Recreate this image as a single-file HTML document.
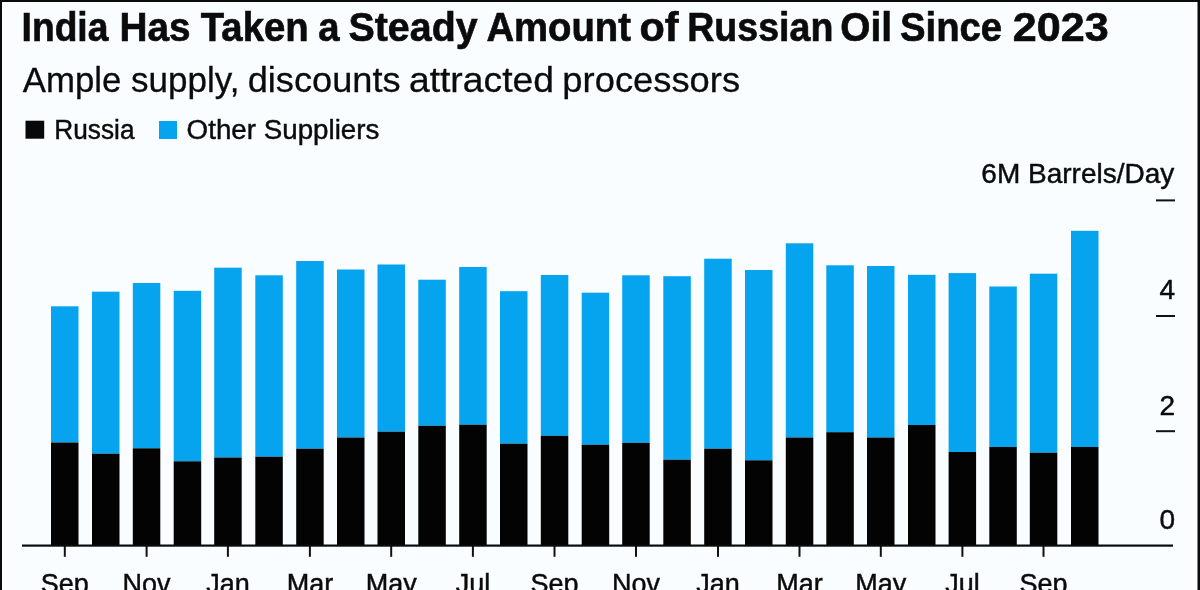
<!DOCTYPE html>
<html><head><meta charset="utf-8">
<style>
html,body{margin:0;padding:0;}
body{width:1200px;height:590px;overflow:hidden;background:#fafdff;position:relative;font-family:"Liberation Sans",sans-serif;color:#0b0b0b;}
.t{position:absolute;white-space:nowrap;line-height:1;}
svg{position:absolute;left:0;top:0;will-change:transform;}
</style></head><body>
<svg width="1200" height="590" viewBox="0 0 1200 590">
<g font-family="Liberation Sans" font-weight="bold" font-size="38.3" fill="#0b0b0b" stroke="#0b0b0b" stroke-width="0.6" transform="translate(0,41) scale(1,1.05) translate(0,-41)"><text x="21.59" y="41" textLength="86.81" lengthAdjust="spacingAndGlyphs">India</text><text x="119.46" y="41" textLength="71.12" lengthAdjust="spacingAndGlyphs">Has</text><text x="200.8" y="41">Taken</text><text x="318.32" y="41">a</text><text x="348.47" y="41" textLength="129.14" lengthAdjust="spacingAndGlyphs">Steady</text><text x="486.4" y="41">Amount</text><text x="639.44" y="41" textLength="39.03" lengthAdjust="spacingAndGlyphs">of</text><text x="687.16" y="41" textLength="146.19" lengthAdjust="spacingAndGlyphs">Russian</text><text x="840.37" y="41" textLength="51.73" lengthAdjust="spacingAndGlyphs">Oil</text><text x="899.99" y="41">Since</text><text x="1012.67" y="41" textLength="95.98" lengthAdjust="spacingAndGlyphs">2023</text></g>
<g font-family="Liberation Sans" font-size="35.8" fill="#0b0b0b" stroke="#0b0b0b" stroke-width="0.3"><text x="22.8" y="92.3" textLength="98.63" lengthAdjust="spacingAndGlyphs">Ample</text><text x="131.12" y="92.3" textLength="108.28" lengthAdjust="spacingAndGlyphs">supply,</text><text x="247.73" y="92.3" textLength="152.82" lengthAdjust="spacingAndGlyphs">discounts</text><text x="408.92" y="92.3" textLength="145.08" lengthAdjust="spacingAndGlyphs">attracted</text><text x="562.37" y="92.3" textLength="177.72" lengthAdjust="spacingAndGlyphs">processors</text></g>
<rect x="25.5" y="120.7" width="18.7" height="18" fill="#080808"/>
<rect x="159" y="121" width="18" height="18" fill="#06a3ee"/>
<g font-family="Liberation Sans" font-size="27" fill="#0b0b0b" stroke="#0b0b0b" stroke-width="0.45">
<text x="54.3" y="139" textLength="80.2" lengthAdjust="spacingAndGlyphs">Russia</text>
<text x="186.6" y="139" textLength="192.8" lengthAdjust="spacingAndGlyphs">Other Suppliers</text>
</g>
<g font-family="Liberation Sans" font-size="28" fill="#0b0b0b" stroke="#0b0b0b" stroke-width="0.45" text-anchor="end">
<text x="1174.3" y="182.5">6M Barrels/Day</text>
<text x="1175" y="298.5">4</text>
<text x="1175" y="415">2</text>
<text x="1175" y="529">0</text>
</g>
<rect x="1156" y="199.4" width="19" height="2" fill="#111"/>
<rect x="1156" y="315" width="19" height="2" fill="#111"/>
<rect x="1156" y="430.2" width="19" height="2" fill="#111"/>
<rect x="51.0" y="306.3" width="27.5" height="136.2" fill="#06a3ee"/>
<rect x="51.0" y="442.5" width="27.5" height="103.0" fill="#030303"/>
<rect x="92.0" y="291.7" width="27.5" height="162.0" fill="#06a3ee"/>
<rect x="92.0" y="453.7" width="27.5" height="91.8" fill="#030303"/>
<rect x="132.8" y="283.0" width="27.5" height="165.3" fill="#06a3ee"/>
<rect x="132.8" y="448.3" width="27.5" height="97.2" fill="#030303"/>
<rect x="173.7" y="290.8" width="27.5" height="170.5" fill="#06a3ee"/>
<rect x="173.7" y="461.3" width="27.5" height="84.2" fill="#030303"/>
<rect x="214.2" y="267.7" width="27.5" height="189.8" fill="#06a3ee"/>
<rect x="214.2" y="457.5" width="27.5" height="88.0" fill="#030303"/>
<rect x="255.3" y="275.3" width="27.5" height="181.4" fill="#06a3ee"/>
<rect x="255.3" y="456.7" width="27.5" height="88.8" fill="#030303"/>
<rect x="296.2" y="261.0" width="27.5" height="187.7" fill="#06a3ee"/>
<rect x="296.2" y="448.7" width="27.5" height="96.8" fill="#030303"/>
<rect x="337.0" y="269.5" width="27.5" height="168.0" fill="#06a3ee"/>
<rect x="337.0" y="437.5" width="27.5" height="108.0" fill="#030303"/>
<rect x="377.5" y="264.5" width="27.5" height="167.2" fill="#06a3ee"/>
<rect x="377.5" y="431.7" width="27.5" height="113.8" fill="#030303"/>
<rect x="418.3" y="279.7" width="27.5" height="146.1" fill="#06a3ee"/>
<rect x="418.3" y="425.8" width="27.5" height="119.7" fill="#030303"/>
<rect x="459.2" y="267.0" width="27.5" height="157.7" fill="#06a3ee"/>
<rect x="459.2" y="424.7" width="27.5" height="120.8" fill="#030303"/>
<rect x="500.0" y="291.2" width="27.5" height="152.5" fill="#06a3ee"/>
<rect x="500.0" y="443.7" width="27.5" height="101.8" fill="#030303"/>
<rect x="540.8" y="275.0" width="27.5" height="160.8" fill="#06a3ee"/>
<rect x="540.8" y="435.8" width="27.5" height="109.7" fill="#030303"/>
<rect x="581.7" y="292.7" width="27.5" height="152.0" fill="#06a3ee"/>
<rect x="581.7" y="444.7" width="27.5" height="100.8" fill="#030303"/>
<rect x="622.2" y="275.3" width="27.5" height="167.5" fill="#06a3ee"/>
<rect x="622.2" y="442.8" width="27.5" height="102.7" fill="#030303"/>
<rect x="663.3" y="276.2" width="27.5" height="183.5" fill="#06a3ee"/>
<rect x="663.3" y="459.7" width="27.5" height="85.8" fill="#030303"/>
<rect x="704.2" y="258.7" width="27.5" height="190.0" fill="#06a3ee"/>
<rect x="704.2" y="448.7" width="27.5" height="96.8" fill="#030303"/>
<rect x="745.0" y="270.0" width="27.5" height="190.3" fill="#06a3ee"/>
<rect x="745.0" y="460.3" width="27.5" height="85.2" fill="#030303"/>
<rect x="785.8" y="243.3" width="27.5" height="194.2" fill="#06a3ee"/>
<rect x="785.8" y="437.5" width="27.5" height="108.0" fill="#030303"/>
<rect x="826.3" y="265.3" width="27.5" height="166.9" fill="#06a3ee"/>
<rect x="826.3" y="432.2" width="27.5" height="113.3" fill="#030303"/>
<rect x="867.0" y="266.0" width="27.5" height="171.5" fill="#06a3ee"/>
<rect x="867.0" y="437.5" width="27.5" height="108.0" fill="#030303"/>
<rect x="908.0" y="274.8" width="27.5" height="150.2" fill="#06a3ee"/>
<rect x="908.0" y="425.0" width="27.5" height="120.5" fill="#030303"/>
<rect x="948.6" y="273.1" width="27.5" height="178.9" fill="#06a3ee"/>
<rect x="948.6" y="452.0" width="27.5" height="93.5" fill="#030303"/>
<rect x="989.3" y="286.5" width="27.5" height="160.5" fill="#06a3ee"/>
<rect x="989.3" y="447.0" width="27.5" height="98.5" fill="#030303"/>
<rect x="1029.8" y="273.7" width="27.5" height="179.0" fill="#06a3ee"/>
<rect x="1029.8" y="452.7" width="27.5" height="92.8" fill="#030303"/>
<rect x="1071.0" y="230.8" width="27.5" height="216.2" fill="#06a3ee"/>
<rect x="1071.0" y="447.0" width="27.5" height="98.5" fill="#030303"/>
<rect x="63.8" y="545.5" width="2" height="11.3" fill="#111"/>
<rect x="145.6" y="545.5" width="2" height="11.3" fill="#111"/>
<rect x="226.9" y="545.5" width="2" height="11.3" fill="#111"/>
<rect x="308.9" y="545.5" width="2" height="11.3" fill="#111"/>
<rect x="390.2" y="545.5" width="2" height="11.3" fill="#111"/>
<rect x="471.9" y="545.5" width="2" height="11.3" fill="#111"/>
<rect x="553.5" y="545.5" width="2" height="11.3" fill="#111"/>
<rect x="635.0" y="545.5" width="2" height="11.3" fill="#111"/>
<rect x="717.0" y="545.5" width="2" height="11.3" fill="#111"/>
<rect x="798.5" y="545.5" width="2" height="11.3" fill="#111"/>
<rect x="879.8" y="545.5" width="2" height="11.3" fill="#111"/>
<rect x="961.4" y="545.5" width="2" height="11.3" fill="#111"/>
<rect x="1042.5" y="545.5" width="2" height="11.3" fill="#111"/>
<rect x="22" y="544.5" width="1151" height="2.2" fill="#0b0b0b"/>
<g font-family="Liberation Sans" font-size="27" fill="#0b0b0b" stroke="#0b0b0b" stroke-width="0.45">
<text x="64.8" y="593.3" text-anchor="middle">Sep</text>
<text x="146.6" y="593.3" text-anchor="middle">Nov</text>
<text x="227.9" y="593.3" text-anchor="middle">Jan</text>
<text x="309.9" y="593.3" text-anchor="middle">Mar</text>
<text x="391.2" y="593.3" text-anchor="middle">May</text>
<text x="472.9" y="593.3" text-anchor="middle">Jul</text>
<text x="554.5" y="593.3" text-anchor="middle">Sep</text>
<text x="636.0" y="593.3" text-anchor="middle">Nov</text>
<text x="718.0" y="593.3" text-anchor="middle">Jan</text>
<text x="799.5" y="593.3" text-anchor="middle">Mar</text>
<text x="880.8" y="593.3" text-anchor="middle">May</text>
<text x="962.4" y="593.3" text-anchor="middle">Jul</text>
<text x="1043.5" y="593.3" text-anchor="middle">Sep</text>
</g>
<rect x="0" y="0" width="1200" height="2" fill="#0a0a0a"/>
<rect x="0" y="0" width="2" height="590" fill="#0a0a0a"/>
<rect x="1197.5" y="0" width="2.5" height="590" fill="#0a0a0a"/>
</svg>
</body></html>
